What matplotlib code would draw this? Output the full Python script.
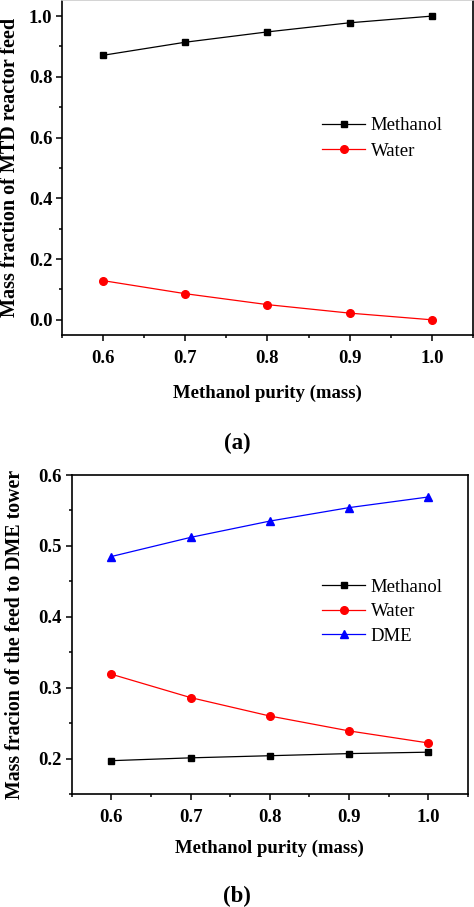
import matplotlib
matplotlib.use("Agg")
import matplotlib.pyplot as plt
from matplotlib.ticker import MultipleLocator

plt.rcParams['font.family'] = ['Liberation Serif', 'DejaVu Serif']
plt.rcParams['font.size'] = 13.5

# data
purity = [0.6, 0.7, 0.8, 0.9, 1.0]

# (a) MTD reactor feed
feed_methanol = [0.871, 0.914, 0.948, 0.978, 1.0]
feed_water = [0.129, 0.086, 0.050, 0.022, 0.0]

# (b) feed to DME tower
dme_methanol = [0.197, 0.201, 0.204, 0.207, 0.209]
dme_water = [0.319, 0.286, 0.260, 0.239, 0.222]
dme_dme = [0.485, 0.512, 0.535, 0.554, 0.569]

W, H = 474, 907
fig = plt.figure(figsize=(W / 100, H / 100), dpi=100)


def px_axes(left, top, right, bottom):
    return fig.add_axes([left / W, 1 - bottom / H, (right - left) / W, (bottom - top) / H])


def style(ax):
    for s in ax.spines.values():
        s.set_linewidth(1.2)
    ax.tick_params(which='both', direction='out', top=False, right=False, width=1.1)
    ax.tick_params(which='major', length=4)
    ax.tick_params(which='minor', length=2.5)
    ax.tick_params(axis='x', pad=7)
    ax.tick_params(axis='y', pad=3)
    for lab in ax.get_xticklabels() + ax.get_yticklabels():
        lab.set_fontweight('bold')
        lab.set_fontsize(13.5)
    ax.set_xlim(0.55, 1.05)
    ax.xaxis.set_minor_locator(MultipleLocator(0.05))
    ax.set_xticks(purity)
    ax.set_xticklabels([f"{v:.1f}" for v in purity], fontweight='bold')


# ---- (a) ----
ax1 = px_axes(62, 0, 473, 335)
ax1.plot(purity, feed_methanol, color='black', lw=0.9, marker='s', ms=5, label='Methanol')
ax1.plot(purity, feed_water, color='red', lw=0.9, marker='o', ms=5.5, label='Water')
ax1.set_ylim(-0.05, 1.053)
ax1.yaxis.set_major_locator(MultipleLocator(0.2))
ax1.yaxis.set_minor_locator(MultipleLocator(0.1))
ax1.yaxis.set_major_formatter(plt.FuncFormatter(lambda v, p: f"{v:.1f}"))
style(ax1)
ax1.spines['top'].set_color('#cccccc')
ax1.set_xlabel('Methanol purity (mass)', fontweight='bold', fontsize=13.5)
ax1.xaxis.set_label_coords(0.5, -0.149)
ax1.set_ylabel('Mass fraction of MTD reactor feed', fontweight='bold', fontsize=14.5)
ax1.yaxis.set_label_coords(-0.103, 0.5)
ax1.legend(loc='upper left', bbox_to_anchor=(0.633, 0.65), frameon=False,
           borderpad=0, borderaxespad=0, handlelength=2.3, handletextpad=0.3,
           labelspacing=0.45, fontsize=13.5)
fig.text(237 / W, 1 - 443 / H, '(a)', ha='center', va='center', fontweight='bold', fontsize=16.5)

# ---- (b) ----
ax2 = px_axes(71.7, 475, 468, 794)
ax2.plot(purity, dme_methanol, color='black', lw=0.9, marker='s', ms=5, label='Methanol')
ax2.plot(purity, dme_water, color='red', lw=0.9, marker='o', ms=5.5, label='Water')
ax2.plot(purity, dme_dme, color='blue', lw=0.9, marker='^', ms=6, label='DME')
ax2.set_ylim(0.15, 0.6)
ax2.yaxis.set_major_locator(MultipleLocator(0.1))
ax2.yaxis.set_minor_locator(MultipleLocator(0.05))
ax2.yaxis.set_major_formatter(plt.FuncFormatter(lambda v, p: f"{v:.1f}"))
style(ax2)
ax2.set_xlabel('Methanol purity (mass)', fontweight='bold', fontsize=13.5)
ax2.xaxis.set_label_coords(0.5, -0.143)
ax2.set_ylabel('Mass fracion of the feed to DME tower', fontweight='bold', fontsize=14.3)
ax2.yaxis.set_label_coords(-0.117, 0.5)
ax2.legend(loc='upper left', bbox_to_anchor=(0.632, 0.675), frameon=False,
           borderpad=0, borderaxespad=0, handlelength=2.3, handletextpad=0.3,
           labelspacing=0.4, fontsize=13.5)
fig.text(237 / W, 1 - 896 / H, '(b)', ha='center', va='center', fontweight='bold', fontsize=16.5)

fig.savefig('out.png', dpi=100)
